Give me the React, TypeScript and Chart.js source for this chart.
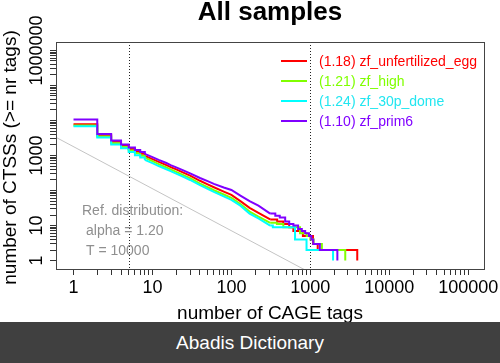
import { useEffect, useRef } from 'react';
import { Chart, registerables } from 'chart.js';

Chart.register(...registerables);

const FONT = '"Liberation Sans", Arial, Helvetica, sans-serif';

const chartTitle = 'All samples';
const xTitle = 'number of CAGE tags';
const yTitle = 'number of CTSSs (>= nr tags)';

const seriesNames = ['zf_unfertilized_egg', 'zf_high', 'zf_30p_dome', 'zf_prim6'];
const seriesAlphas = ['1.18', '1.21', '1.24', '1.10'];
const seriesColors = ['#FF0000', '#80FF00', '#00FFFF', '#8000FF'];

// reverse cumulative counts (step functions)
const eggX = [1, 2, 3, 4, 5, 6, 7, 8, 10, 12, 15, 17, 20, 25, 30, 40, 50, 60, 80, 100, 130, 170, 220, 310, 380, 455, 540, 610, 805, 1080, 1240, 3930];
const eggY = [7800, 3800, 2450, 1890, 1530, 1290, 1120, 980, 790, 660, 530, 468, 400, 320, 265, 190, 150, 124, 93, 75, 50, 32, 23, 15, 13, 11, 9, 7, 5, 3, 2, 1];

const highX = [1, 2, 3, 4, 5, 6, 7, 8, 10, 12, 15, 17, 20, 25, 30, 40, 50, 60, 80, 100, 130, 170, 220, 310, 377, 455, 740, 900, 1000, 1100, 1400, 2770];
const highY = [7160, 3480, 2250, 1740, 1390, 1160, 990, 865, 690, 570, 455, 402, 340, 270, 225, 158, 124, 102, 77, 62, 41, 25, 18, 12, 11, 9, 6, 5, 4, 3, 2, 1];

const domeX = [1, 2, 3, 4, 5, 6, 7, 8, 10, 12, 15, 17, 20, 25, 30, 40, 50, 60, 80, 100, 130, 170, 220, 310, 335, 640, 895, 1940];
const domeY = [6840, 3250, 2070, 1600, 1250, 1020, 870, 750, 605, 500, 405, 360, 305, 243, 200, 142, 112, 91, 68, 54, 37, 22, 16, 10, 9, 4, 2, 1];

const prim6X = [1, 2, 3, 4, 5, 6, 7, 8, 10, 12, 15, 17, 20, 25, 30, 40, 50, 60, 80, 100, 130, 170, 220, 310, 360, 410, 480, 540, 610, 700, 780, 860, 960, 1030, 1090, 1320, 2200];
const prim6Y = [10600, 4140, 2690, 2070, 1690, 1430, 1250, 1110, 900, 750, 610, 533, 460, 370, 310, 228, 185, 155, 122, 104, 72, 50, 37, 22, 19, 17, 13, 11, 10, 8, 7, 6, 5, 4, 3, 2, 1];

const seriesX = [eggX, highX, domeX, prim6X];
const seriesY = [eggY, highY, domeY, prim6Y];

// dense (pixel-level stairs) middle part is drawn unstepped between these tag counts
const denseFrom = 8;
const denseTo = 310;

// reference power-law distribution
const refAlpha = 1.2;
const refT = 10000;
const refZeta = 5.5916; // zeta(1.2)
const refX = [0.5, 2000];

// vertical dotted thresholds
const thresholds = [5, 1000];

// axes
const xMin = Math.pow(10, -0.2);
const xMax = Math.pow(10, 5.2);
const yMin = Math.pow(10, -0.24);
const yMax = Math.pow(10, 6.24);
const xDecades = [1, 10, 100, 1000, 10000, 100000];
const yDecades = [1, 10, 100, 1000, 10000, 100000, 1000000];
const minorMultipliers = [1, 2, 3, 4, 5, 6, 7, 8, 9];
const xTickLabels = ['1', '10', '100', '1000', '10000', '100000'];
const yLabelValues = [1, 10, 1000, 1000000];
const yTickLabels = ['1', '10', '1000', '1000000'];

const buildTicks = (decades: number[], lo: number, hi: number) => {
  const out: { value: number }[] = [];
  decades.forEach((d) => minorMultipliers.forEach((m) => {
    const v = d * m;
    if (v >= lo && v <= hi) out.push({ value: v });
  }));
  return out;
};

const textPlugin = {
  id: 'rtext',
  beforeDatasetsDraw(chart: any) {
    const { ctx, chartArea, scales } = chart;
    ctx.save();
    ctx.strokeStyle = '#222';
    ctx.lineWidth = 1;
    ctx.setLineDash([1, 2]);
    thresholds.forEach((t) => {
      const px = Math.round(scales.x.getPixelForValue(t)) + 0.5;
      ctx.beginPath();
      ctx.moveTo(px, chartArea.top);
      ctx.lineTo(px, chartArea.bottom);
      ctx.stroke();
    });
    ctx.restore();
  },
  afterDraw(chart: any) {
    const { ctx, chartArea, scales } = chart;
    ctx.save();
    // box
    ctx.strokeStyle = '#444';
    ctx.lineWidth = 1;
    ctx.strokeRect(Math.round(chartArea.left) + 0.5, Math.round(chartArea.top) + 0.5,
      Math.round(chartArea.right - chartArea.left), Math.round(chartArea.bottom - chartArea.top));

    // title
    ctx.fillStyle = '#000';
    ctx.font = `bold 26px ${FONT}`;
    ctx.textAlign = 'center';
    ctx.textBaseline = 'alphabetic';
    const cx = (chartArea.left + chartArea.right) / 2;
    ctx.fillText(chartTitle, cx, 20);

    // x tick labels
    ctx.font = `18px ${FONT}`;
    xDecades.forEach((v, i) => {
      ctx.fillText(xTickLabels[i], scales.x.getPixelForValue(v), 293);
    });
    // x title
    ctx.font = `19px ${FONT}`;
    ctx.fillText(xTitle, cx, 319);

    // y tick labels
    ctx.font = `18px ${FONT}`;
    yLabelValues.forEach((v, i) => {
      ctx.save();
      ctx.translate(42, scales.y.getPixelForValue(v));
      ctx.rotate(-Math.PI / 2);
      ctx.fillText(yTickLabels[i], 0, 0);
      ctx.restore();
    });
    // y title
    ctx.font = `19px ${FONT}`;
    ctx.save();
    ctx.translate(16, (chartArea.top + chartArea.bottom) / 2 + 2);
    ctx.rotate(-Math.PI / 2);
    ctx.fillText(yTitle, 0, 0);
    ctx.restore();

    // legend
    ctx.font = `14px ${FONT}`;
    ctx.textAlign = 'left';
    ctx.textBaseline = 'middle';
    seriesNames.forEach((name, i) => {
      const y = 61 + i * 20;
      ctx.strokeStyle = seriesColors[i];
      ctx.lineWidth = 2;
      ctx.beginPath();
      ctx.moveTo(281, y);
      ctx.lineTo(307, y);
      ctx.stroke();
      ctx.fillStyle = seriesColors[i] === '#00FFFF' ? '#22E6F0' : seriesColors[i];
      ctx.fillText(`(${seriesAlphas[i]}) ${name}`, 319, y + 1);
    });

    // reference text
    ctx.fillStyle = '#8f8f8f';
    ctx.fillText('Ref. distribution:', 82, 211);
    ctx.fillText(`alpha = ${refAlpha.toFixed(2)}`, 86, 231);
    ctx.fillText(`T = ${refT}`, 86, 251);
    ctx.restore();
  },
};

export default function App() {
  const ref = useRef<HTMLCanvasElement>(null);
  useEffect(() => {
    if (!ref.current) return;
    const datasets: any[] = [];
    seriesNames.forEach((name, i) => {
      const pts = seriesX[i].map((x, j) => ({ x, y: seriesY[i][j] }));
      const parts = [
        { data: pts.filter((p) => p.x <= denseFrom), stepped: true },
        { data: pts.filter((p) => p.x >= denseFrom && p.x <= denseTo), stepped: false },
        { data: pts.filter((p) => p.x >= denseTo), stepped: true },
      ];
      parts.forEach((part) => {
        datasets.push({
          label: name,
          data: part.data,
          borderColor: seriesColors[i],
          borderWidth: 2,
          pointRadius: 0,
          stepped: part.stepped,
          tension: 0,
          fill: false,
          order: 4 - i,
        });
      });
    });
    datasets.push({
      label: 'ref',
      data: refX.map((x) => ({ x, y: (refT / refZeta) * Math.pow(x, -refAlpha) })),
      borderColor: '#c4c4c4',
      borderWidth: 1,
      pointRadius: 0,
      fill: false,
      order: 10,
    });
    const tickGrid = { drawOnChartArea: false, drawTicks: true, tickLength: 6, color: '#333', tickColor: '#333', lineWidth: 1 };
    const chart = new Chart(ref.current, {
      type: 'line',
      data: { datasets },
      options: {
        animation: false,
        responsive: false,
        maintainAspectRatio: false,
        layout: { padding: { top: 42, right: 16, left: 0, bottom: 0 } },
        plugins: { legend: { display: false }, tooltip: { enabled: false }, title: { display: false } },
        scales: {
          x: {
            type: 'logarithmic',
            min: xMin,
            max: xMax,
            ticks: { display: false },
            grid: tickGrid,
            border: { display: false },
            afterBuildTicks: (s: any) => { s.ticks = buildTicks(xDecades, xMin, xMax); },
            afterFit: (s: any) => { s.height = 53; },
          },
          y: {
            type: 'logarithmic',
            min: yMin,
            max: yMax,
            ticks: { display: false },
            grid: tickGrid,
            border: { display: false },
            afterBuildTicks: (s: any) => { s.ticks = buildTicks(yDecades, yMin, yMax); },
            afterFit: (s: any) => { s.width = 56; },
          },
        },
      } as any,
      plugins: [textPlugin],
    });
    return () => chart.destroy();
  }, []);
  return (
    <div style={{ position: 'absolute', left: 0, top: 0, width: 500, height: 363, background: '#fff', overflow: 'hidden' }}>
      <canvas ref={ref} width={500} height={322} style={{ display: 'block', width: 500, height: 322 }} />
      <div style={{ height: 41, background: '#404040', color: '#fff', fontFamily: FONT, fontSize: 19, lineHeight: '41px', textAlign: 'center' }}>
        Abadis Dictionary
      </div>
    </div>
  );
}
